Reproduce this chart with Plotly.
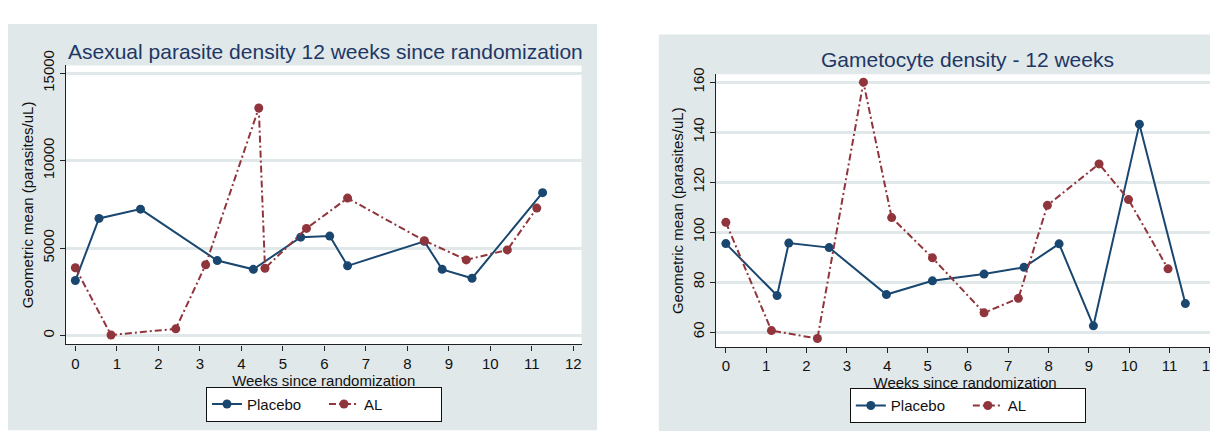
import plotly.graph_objects as go

# ---------------- data ----------------
# Left panel: asexual parasite density
asex_placebo_weeks = [0.0, 0.57, 1.57, 3.42, 4.29, 5.43, 6.13, 6.56, 8.41, 8.84, 9.56, 11.26]
asex_placebo_vals = [3150, 6700, 7230, 4290, 3790, 5630, 5690, 3990, 5390, 3790, 3280, 8170]
asex_al_weeks = [0.0, 0.86, 2.42, 3.14, 4.42, 4.57, 5.57, 6.56, 8.41, 9.42, 10.41, 11.12]
asex_al_vals = [3880, 40, 390, 4050, 13010, 3850, 6130, 7860, 5430, 4330, 4900, 7290]

# Right panel: gametocyte density
gam_placebo_weeks = [0.0, 1.27, 1.56, 2.56, 3.98, 5.12, 6.40, 7.39, 8.26, 9.11, 10.25, 11.39]
gam_placebo_vals = [95.4, 74.6, 95.6, 93.8, 75.0, 80.5, 83.2, 85.9, 95.3, 62.5, 143.2, 71.4]
gam_al_weeks = [0.0, 1.13, 2.27, 3.41, 4.11, 5.12, 6.40, 7.25, 7.97, 9.25, 9.98, 10.96]
gam_al_vals = [103.9, 60.6, 57.4, 160.0, 105.8, 89.7, 67.7, 73.5, 110.7, 127.3, 113.0, 85.3]

week_ticks = list(range(0, 13))
asex_yticks = [0, 5000, 10000, 15000]
asex_yticklabels = ["0", "5000", "10000", "15000"]
gam_yticks = [60, 80, 100, 120, 140, 160]
gam_yticklabels = ["60", "80", "100", "120", "140", "160"]

titles = ["Asexual parasite density 12 weeks since randomization", "Gametocyte density - 12 weeks"]
x_title = "Weeks since randomization"
y_title = "Geometric mean (parasites/uL)"
series_names = ["Placebo", "AL"]

# ---------------- styles ----------------
W, H = 1218, 431
OFF = 8  # page body margin: figure pixel p appears at p + OFF in the window
NAVY = "#1a476f"
MAROON = "#90353b"
BG = "#e0e8ea"
GRID = "#e0e8ea"
TITLE_C = "#1e3765"
FONT = "Liberation Sans, Arial, sans-serif"

def px_x(p):
    return (p - OFF) / W

def px_y(p):
    return 1 - (p - OFF) / H

fig = go.Figure()
line_dash_al = "7px,3px,2px,3px"

def add_pair(xa, ya, legend, pw, pv, aw, av):
    fig.add_trace(go.Scatter(x=pw, y=pv, mode="lines+markers", name=series_names[0],
                             line=dict(color=NAVY, width=2),
                             marker=dict(color=NAVY, size=9, symbol="circle"),
                             xaxis=xa, yaxis=ya, legend=legend))
    fig.add_trace(go.Scatter(x=aw, y=av, mode="lines+markers", name=series_names[1],
                             line=dict(color=MAROON, width=2, dash=line_dash_al),
                             marker=dict(color=MAROON, size=9, symbol="circle"),
                             xaxis=xa, yaxis=ya, legend=legend))

add_pair("x", "y", "legend", asex_placebo_weeks, asex_placebo_vals, asex_al_weeks, asex_al_vals)
add_pair("x2", "y2", "legend2", gam_placebo_weeks, gam_placebo_vals, gam_al_weeks, gam_al_vals)

axis_common = dict(showline=True, linecolor="#222222", linewidth=1.3, ticks="outside",
                   ticklen=5, tickcolor="#222222", tickwidth=1.2, zeroline=False,
                   tickfont=dict(family=FONT, size=15, color="#111111"),
                   title_font=dict(family=FONT, size=15, color="#111111"))

# panel geometry (window pixels)
L_x0, L_x1, L_top, L_bot = 66, 583.5, 52, 341
R_x0, R_x1, R_top, R_bot = 718.5, 1218, 61, 344

fig.update_layout(
    width=W, height=H, margin=dict(l=0, r=0, t=0, b=0),
    paper_bgcolor="white", plot_bgcolor="white", showlegend=True,
    xaxis=dict(domain=[px_x(L_x0), px_x(L_x1)], anchor="y", range=[-0.23, 12.2],
               tickvals=week_ticks, showgrid=False, title=dict(text=x_title, standoff=1), **axis_common),
    yaxis=dict(domain=[px_y(L_bot), px_y(L_top)], anchor="x", range=[-500, 15440],
               tickvals=asex_yticks, ticktext=asex_yticklabels, tickangle=-90,
               showgrid=True, gridcolor=GRID, gridwidth=2.5, title=dict(text=y_title, standoff=2), **axis_common),
    xaxis2=dict(domain=[px_x(R_x0), px_x(R_x1)], anchor="y2", range=[-0.24, 12.1],
                tickvals=week_ticks, showgrid=False, title=dict(text=x_title, standoff=1), **axis_common),
    yaxis2=dict(domain=[px_y(R_bot), px_y(R_top)], anchor="x2", range=[53.9, 163.2],
                tickvals=gam_yticks, ticktext=gam_yticklabels, tickangle=-90,
                showgrid=True, gridcolor=GRID, gridwidth=2.5, title=dict(text=y_title, standoff=2), **axis_common),
    legend=dict(orientation="h", x=px_x(325), y=px_y(403), xanchor="center", yanchor="middle",
                bgcolor="white", bordercolor="#111111", borderwidth=1,
                font=dict(family=FONT, size=15, color="#111111"), entrywidth=72, tracegroupgap=0),
    legend2=dict(orientation="h", x=px_x(971), y=px_y(404.5), xanchor="center", yanchor="middle",
                 bgcolor="white", bordercolor="#111111", borderwidth=1,
                 font=dict(family=FONT, size=15, color="#111111"), entrywidth=72, tracegroupgap=0),
)

shapes = [
    dict(type="rect", xref="paper", yref="paper", x0=px_x(8), x1=px_x(599), y0=px_y(430), y1=px_y(9),
         fillcolor=BG, line=dict(width=0), layer="below"),
    dict(type="rect", xref="paper", yref="paper", x0=px_x(661), x1=1, y0=0, y1=px_y(20),
         fillcolor=BG, line=dict(width=0), layer="below"),
    dict(type="rect", xref="x domain", yref="y domain", x0=0, x1=1, y0=0, y1=1,
         fillcolor="white", line=dict(width=0), layer="below"),
    dict(type="rect", xref="x2 domain", yref="y2 domain", x0=0, x1=1, y0=0, y1=1,
         fillcolor="white", line=dict(width=0), layer="below"),
]
fig.update_layout(shapes=shapes)

fig.add_annotation(text=titles[0], xref="paper", yref="paper", x=px_x(327), y=px_y(38),
                   xanchor="center", yanchor="middle", showarrow=False,
                   font=dict(family=FONT, size=21, color=TITLE_C))
fig.add_annotation(text=titles[1], xref="paper", yref="paper", x=px_x(971), y=px_y(46),
                   xanchor="center", yanchor="middle", showarrow=False,
                   font=dict(family=FONT, size=21, color=TITLE_C))

fig.write_html("out.html", config={"displayModeBar": False})
